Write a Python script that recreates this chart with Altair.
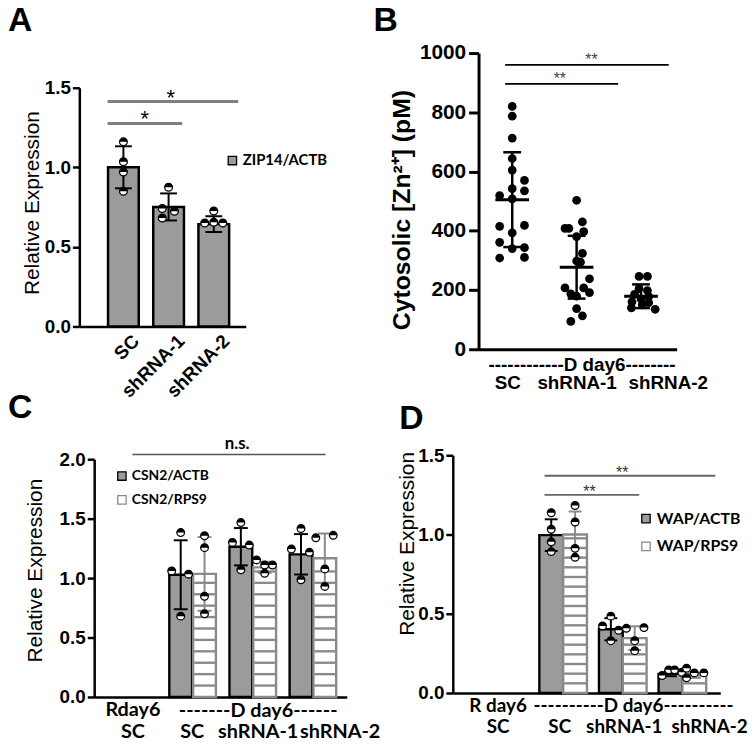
import altair as alt
import pandas as pd

NUM = "Liberation Sans"
TXT = "Lato"
HALF_TOP = "M -1 0 A 1 1 0 0 1 1 0 Z"
GRAY = "#9b9b9b"
LINEGRAY = "#8a8a8a"

panel_letters = ["A", "B", "C", "D"]

# ---------------- Panel A data ----------------
a_labels = ["SC", "shRNA-1", "shRNA-2"]
a_series = "ZIP14/ACTB"
a_mean = [1.00, 0.751, 0.643]
a_sd = [0.132, 0.085, 0.050]
a_dot_group = [0, 0, 0, 0, 1, 1, 1, 1, 2, 2, 2, 2]
a_dot_jitter = [0, 0, 0, 0, 0, -0.14, 0.13, -0.14, 0, -0.2, 0, 0.2]
a_dot_value = [1.16, 1.035, 0.97, 0.85, 0.875, 0.741, 0.724, 0.682, 0.726, 0.65, 0.655, 0.65]
a_sig_start = [-0.35, -0.35]
a_sig_end = [2.54, 1.30]
a_sig_level = [1.413, 1.275]
a_sig_mark = ["*", "*"]
a_sig_mark_x = [1.05, 0.47]
a_sig_mark_y = [1.435, 1.30]

# ---------------- Panel B data ----------------
b_labels = ["SC", "shRNA-1", "shRNA-2"]
b_group_title = "------------D day6--------"
b_mean = [505, 277, 179]
b_sd = [160, 106, 40]
b_sc_value = [820, 787, 713, 644, 605, 570, 535, 542, 519, 508, 415, 418, 393, 361, 343, 340, 308, 310]
b_sc_jitter = [0, 0, 0, 0, 0, 0.19, 0.19, 0, -0.195, 0, -0.195, 0.19, 0, -0.195, 0.19, 0, -0.195, 0.19]
b_sh1_value = [503, 430, 408, 408, 397, 380, 324, 298, 294, 238, 207, 207, 191, 187, 179, 137, 113, 94]
b_sh1_jitter = [0, 0.09, -0.18, -0.12, 0.11, 0, 0.09, 0, 0.06, 0.2, -0.18, 0.11, 0.2, -0.09, 0, 0, 0.09, -0.09]
b_sh2_value = [246, 246, 205, 198, 185, 178, 170, 160, 157, 140, 135, 150]
b_sh2_jitter = [-0.03, 0.1, -0.03, 0.1, -0.1, 0.12, 0, -0.14, 0.12, -0.15, 0.22, 0.02]
b_sig_start = [-0.11, -0.11]
b_sig_end = [2.43, 1.646]
b_sig_level = [960, 896]
b_sig_mark = ["**", "**"]
b_sig_mark_x = [1.23, 0.74]
b_sig_mark_y = [975, 912]

# ---------------- Panel C data ----------------
c_labels_top = ["Rday6", "", "", ""]
c_labels_bottom = ["SC", "SC", "shRNA-1", "shRNA-2"]
c_group_title = "-------D day6------"
c_series = ["CSN2/ACTB", "CSN2/RPS9"]
c_bar_group = [1, 2, 3]
c_actb_mean = [1.028, 1.264, 1.20]
c_actb_sd = [0.29, 0.157, 0.17]
c_rps9_mean = [1.035, 1.09, 1.167]
c_rps9_sd = [0.31, 0.047, 0.208]
c_dot_group = [1, 1, 1, 1, 2, 2, 2, 2, 3, 3, 3, 3]
c_actb_dot_jitter = [0, -0.15, 0.13, 0, 0, -0.14, 0.14, 0, 0, -0.16, 0.14, 0]
c_actb_dot_value = [1.383, 1.06, 1.033, 0.68, 1.467, 1.30, 1.278, 1.07, 1.417, 1.244, 1.217, 0.986]
c_rps9_dot_jitter = [0, 0, 0, 0, -0.135, 0, 0.13, 0, -0.15, 0.14, 0, 0]
c_rps9_dot_value = [1.356, 1.256, 0.847, 0.70, 1.153, 1.11, 1.11, 1.04, 1.339, 1.36, 1.077, 0.93]
c_sig_start = [0.0]
c_sig_end = [3.21]
c_sig_level = [2.04]
c_sig_mark = ["n.s."]
c_sig_mark_x = [1.74]
c_sig_mark_y = [2.125]

# ---------------- Panel D data ----------------
d_labels_top = ["R day6", "", "", ""]
d_labels_bottom = ["SC", "SC", "shRNA-1", "shRNA-2"]
d_group_title = "----------D day6----------"
d_series = ["WAP/ACTB", "WAP/RPS9"]
d_bar_group = [1, 2, 3]
d_actb_mean = [0.996, 0.402, 0.121]
d_actb_sd = [0.10, 0.07, 0.015]
d_rps9_mean = [1.0, 0.346, 0.11]
d_rps9_sd = [0.145, 0.075, 0.015]
d_dot_group = [1, 1, 1, 1, 2, 2, 2, 2, 3, 3, 3, 3]
d_actb_dot_jitter = [0, 0, 0, 0, 0, -0.14, 0.13, 0, -0.14, -0.03, 0.07, 0.19]
d_actb_dot_value = [1.1375, 1.033, 0.954, 0.892, 0.485, 0.423, 0.396, 0.33, 0.11, 0.146, 0.146, 0.131]
d_rps9_dot_jitter = [0, 0, 0, 0, -0.14, 0.155, 0, 0, -0.13, -0.13, 0, 0.16]
d_rps9_dot_value = [1.183, 1.079, 0.9125, 0.856, 0.408, 0.4125, 0.33, 0.267, 0.156, 0.096, 0.127, 0.127]
d_sig_start = [0.688, 0.688]
d_sig_end = [3.552, 2.275]
d_sig_level = [1.37, 1.25]
d_sig_mark = ["**", "**"]
d_sig_mark_x = [1.99, 1.44]
d_sig_mark_y = [1.385, 1.265]


# ---------------- helpers ----------------
def one_line(labels):
    return "[" + ",".join("'" + s + "'" for s in labels) + "][round(datum.value)]"


def two_lines(top, bottom):
    return "[" + ",".join("['" + t + "','" + b + "']" for t, b in zip(top, bottom)) + "][round(datum.value)]"


def label_shift(shifts):
    conds = [{"test": "round(datum.value) == %d" % i, "value": s} for i, s in enumerate(shifts) if s != 0]
    return {"condition": conds, "value": 0}


def y_axis(values, fmt, title, offset, title_pad, title_y, label_size=19, tick_size=7, title_size=21,
           title_weight="normal", label_pad=2, width=2.5):
    return alt.Axis(values=values, format=fmt, title=title, offset=offset, tickSize=tick_size,
                    tickWidth=width, domainWidth=width, labelFont=NUM, labelFontSize=label_size,
                    labelFontWeight="bold", labelPadding=label_pad, titleFont=NUM,
                    titleFontSize=title_size, titleFontWeight=title_weight, titlePadding=title_pad,
                    titleY=title_y, grid=False, labelFlush=False)


def legend(x, y, size, row_pad):
    return alt.Legend(title=None, orient="none", legendX=x, legendY=y, symbolType="square",
                      symbolSize=72, symbolStrokeWidth=1.3, labelFont=TXT, labelFontSize=size,
                      labelFontWeight="bold", labelColor="black", labelOffset=3,
                      rowPadding=row_pad, padding=0)


def half_dots(df, X, Y, size):
    base = alt.Chart(df).encode(x=X, y=Y)
    ring = base.mark_point(shape="circle", filled=True, fill="white", stroke="black",
                           strokeWidth=1.3, size=size, opacity=1)
    top = base.mark_point(shape=HALF_TOP, filled=True, fill="black", strokeWidth=0,
                          size=size, opacity=1)
    return [ring, top]


def error_bars(df, X, Y, color, cap, width=2):
    rule = alt.Chart(df).mark_rule(color=color, strokeWidth=width).encode(x=X("x"), y=Y("lo"), y2="hi")
    lo = alt.Chart(df).mark_tick(orient="horizontal", size=cap, thickness=width, color=color,
                                 opacity=1).encode(x=X("x"), y=Y("lo"))
    hi = alt.Chart(df).mark_tick(orient="horizontal", size=cap, thickness=width, color=color,
                                 opacity=1).encode(x=X("x"), y=Y("hi"))
    return [rule, lo, hi]


def letter(t, x, y):
    return alt.Chart(pd.DataFrame({"t": [t]})).mark_text(
        font=NUM, fontSize=34, fontWeight="bold", align="left", baseline="alphabetic", color="black"
    ).encode(text="t:N", x=alt.value(x), y=alt.value(y))


def sig_layers(data, style, X, Y):
    start, end, level, marks, mx, my = data
    line_color, line_w, font, size, weight, color = style
    ldf = pd.DataFrame({"s": start, "e": end, "lv": level})
    tdf = pd.DataFrame({"tx": mx, "ty": my, "m": marks})
    rule = alt.Chart(ldf).mark_rule(color=line_color, strokeWidth=line_w).encode(
        x=X("s"), x2="e", y=Y("lv"))
    txt = alt.Chart(tdf).mark_text(font=font, fontSize=size, fontWeight=weight, color=color,
                                   baseline="middle").encode(x=X("tx"), y=Y("ty"), text="m:N")
    return [rule, txt]


LETTER_Y = -22

# ---------------- Panel A ----------------
a_xs = alt.Scale(domain=[-0.866, 2.598], range=[-15, 153], nice=False, zero=False)
a_ys = alt.Scale(domain=[0, 1.5], range=[276, 35], nice=False, zero=False)
a_xax = alt.Axis(values=[0, 1, 2], labelExpr=one_line(a_labels), ticks=False, domainWidth=2.5,
                 labelAngle=-45, labelAlign="right", labelBaseline="top", labelFont=NUM,
                 labelFontSize=19, labelFontWeight="bold", labelPadding=5, labelOffset=6,
                 labelOverlap=False, labelFlush=False, title=None, grid=False)
a_yax = y_axis([0, 0.5, 1.0, 1.5], ".1f", "Relative Expression", 15, 2, 151)


def AX(f):
    return alt.X(f + ":Q", scale=a_xs, axis=a_xax)


def AY(f):
    return alt.Y(f + ":Q", scale=a_ys, axis=a_yax)


a_bar_df = pd.DataFrame({
    "x": [0, 1, 2], "y": a_mean,
    "lo": [m - s for m, s in zip(a_mean, a_sd)], "hi": [m + s for m, s in zip(a_mean, a_sd)],
    "series": [a_series] * 3,
})
a_dot_df = pd.DataFrame({"x": [g + j for g, j in zip(a_dot_group, a_dot_jitter)], "y": a_dot_value})

a_layers = [
    alt.Chart(a_bar_df).mark_bar(orient="vertical", size=31, stroke="black", strokeWidth=2.5).encode(
        x=AX("x"), y=AY("y"), y2=alt.datum(0),
        fill=alt.Fill("series:N", scale=alt.Scale(domain=[a_series], range=[GRAY]),
                      legend=legend(132, 101, 15, 8))),
    *error_bars(a_bar_df, AX, AY, "black", 17),
    *half_dots(a_dot_df, AX("x"), AY("y"), 62),
    *sig_layers((a_sig_start, a_sig_end, a_sig_level, a_sig_mark, a_sig_mark_x, a_sig_mark_y),
                ("#7f7f7f", 3, NUM, 22, "normal", "black"), AX, AY),
    letter(panel_letters[0], -87, LETTER_Y),
]
panel_a = alt.layer(*a_layers).properties(width=153, height=276)

# ---------------- Panel B ----------------
b_xs = alt.Scale(domain=[-0.523, 2.554], nice=False, zero=False)
b_ys = alt.Scale(domain=[0, 1000], nice=False, zero=False)
b_xax = alt.Axis(values=[0, 1, 2], labelExpr=one_line(b_labels), ticks=False, domainWidth=3,
                 labelFont=NUM, labelFontSize=19, labelFontWeight="bold", labelPadding=25,
                 labelOffset=label_shift([-5, 0, 27]),
                 labelOverlap=False, labelFlush=False, title=b_group_title, titleFont=NUM,
                 titleFontSize=19, titleFontWeight="bold", titleX=104, titleY=15,
                 titleAlign="center", titleBaseline="middle", grid=False)
b_yax = y_axis([0, 200, 400, 600, 800, 1000], "d", "Cytosolic [Zn²⁺] (pM)", 0, 5, 158,
               label_size=21, tick_size=10, title_size=25, title_weight="bold", label_pad=3, width=3)


def BX(f):
    return alt.X(f + ":Q", scale=b_xs, axis=b_xax)


def BY(f):
    return alt.Y(f + ":Q", scale=b_ys, axis=b_yax)


b_stat_df = pd.DataFrame({
    "x": [0, 1, 2], "y": b_mean,
    "lo": [m - s for m, s in zip(b_mean, b_sd)], "hi": [m + s for m, s in zip(b_mean, b_sd)],
})
b_dot_df = pd.DataFrame({
    "x": [0 + j for j in b_sc_jitter] + [1 + j for j in b_sh1_jitter] + [2 + j for j in b_sh2_jitter],
    "y": b_sc_value + b_sh1_value + b_sh2_value,
})
b_layers = [
    alt.Chart(b_dot_df).mark_circle(size=78, color="black", opacity=1).encode(x=BX("x"), y=BY("y")),
    *error_bars(b_stat_df, BX, BY, "black", 18, width=2.5),
    alt.Chart(b_stat_df).mark_tick(orient="horizontal", size=34, thickness=3, color="black",
                                   opacity=1).encode(x=BX("x"), y=BY("y")),
    *sig_layers((b_sig_start, b_sig_end, b_sig_level, b_sig_mark, b_sig_mark_x, b_sig_mark_y),
                ("black", 1.6, NUM, 16, "normal", "#444444"), BX, BY),
    letter(panel_letters[1], -106, LETTER_Y),
]
panel_b = alt.layer(*b_layers).properties(width=200, height=299)


# ---------------- grouped bar panels (C, D) ----------------
def grouped_panel(xs, ys, xax, yax, series, groups, actb_mean, actb_sd, rps9_mean, rps9_sd,
                  dot_group, actb_jit, actb_val, rps9_jit, rps9_val, off, bar_w, stripe_step,
                  cap, dot_size, leg, sig, sig_style, let, let_xy, width, height):
    def X(f):
        return alt.X(f + ":Q", scale=xs, axis=xax)

    def Y(f):
        return alt.Y(f + ":Q", scale=ys, axis=yax)

    actb = pd.DataFrame({
        "x": [g - off for g in groups], "y": actb_mean,
        "lo": [m - s for m, s in zip(actb_mean, actb_sd)],
        "hi": [m + s for m, s in zip(actb_mean, actb_sd)], "series": [series[0]] * len(groups)})
    rps9 = pd.DataFrame({
        "x": [g + off for g in groups], "y": rps9_mean,
        "lo": [m - s for m, s in zip(rps9_mean, rps9_sd)],
        "hi": [m + s for m, s in zip(rps9_mean, rps9_sd)], "series": [series[1]] * len(groups)})
    bars = pd.concat([actb, rps9], ignore_index=True)
    # horizontal hatching inside the RPS9 bars (style only)
    sx, sy = [], []
    for g, m in zip(groups, rps9_mean):
        k = 1
        while k * stripe_step < m - 0.35 * stripe_step:
            sx.append(g + off)
            sy.append(k * stripe_step)
            k += 1
    stripes = pd.DataFrame({"x": sx, "y": sy})
    actb_dots = pd.DataFrame({"x": [g - off + j for g, j in zip(dot_group, actb_jit)], "y": actb_val})
    rps9_dots = pd.DataFrame({"x": [g + off + j for g, j in zip(dot_group, rps9_jit)], "y": rps9_val})

    layers = [
        alt.Chart(bars).mark_bar(orient="vertical", size=bar_w, strokeWidth=2.4).encode(
            x=X("x"), y=Y("y"), y2=alt.datum(0),
            fill=alt.Fill("series:N", scale=alt.Scale(domain=series, range=[GRAY, "white"]), legend=leg),
            stroke=alt.Stroke("series:N", scale=alt.Scale(domain=series, range=["black", LINEGRAY]),
                              legend=leg)),
        alt.Chart(stripes).mark_tick(orient="horizontal", size=bar_w - 2, thickness=2.4,
                                     color=LINEGRAY, opacity=1).encode(x=X("x"), y=Y("y")),
        *error_bars(actb, X, Y, "black", cap),
        *error_bars(rps9, X, Y, LINEGRAY, cap),
        *half_dots(actb_dots, X("x"), Y("y"), dot_size),
        *half_dots(rps9_dots, X("x"), Y("y"), dot_size),
        *sig_layers(sig, sig_style, X, Y),
        letter(let, let_xy[0], let_xy[1]),
    ]
    return alt.layer(*layers).properties(width=width, height=height)


c_xs = alt.Scale(domain=[-0.554, 3.481], nice=False, zero=False)
c_ys = alt.Scale(domain=[0, 2.0], range=[244, 4], nice=False, zero=False)
c_xax = alt.Axis(values=[0, 1, 2, 3], labelExpr=two_lines(c_labels_top, c_labels_bottom), ticks=False,
                 domainWidth=2.5, labelFont=TXT, labelFontSize=20, labelFontWeight="bold",
                 labelLineHeight=22, labelPadding=3, labelOffset=label_shift([0, -1, 5, 27]),
                 labelOverlap=False, labelFlush=False,
                 title=c_group_title, titleFont=TXT, titleFontSize=20, titleFontWeight="bold",
                 titleX=165, titleY=14, titleAlign="center", titleBaseline="middle", grid=False)
c_yax = y_axis([0, 0.5, 1.0, 1.5, 2.0], ".1f", "Relative Expression", 0, 14, 116)

panel_c = grouped_panel(
    c_xs, c_ys, c_xax, c_yax, c_series, c_bar_group, c_actb_mean, c_actb_sd, c_rps9_mean, c_rps9_sd,
    c_dot_group, c_actb_dot_jitter, c_actb_dot_value, c_rps9_dot_jitter, c_rps9_dot_value,
    0.198, 23, 0.096, 14, 60, legend(21, 14, 14, 10),
    (c_sig_start, c_sig_end, c_sig_level, c_sig_mark, c_sig_mark_x, c_sig_mark_y),
    ("#555555", 1.6, TXT, 17, "bold", "black"),
    panel_letters[2], (-87, -38), 255, 244)

d_xs = alt.Scale(domain=[-0.768, 3.552], range=[-26, 244], nice=False, zero=False)
d_ys = alt.Scale(domain=[0, 1.5], nice=False, zero=False)
d_xax = alt.Axis(values=[0, 1, 2, 3], labelExpr=two_lines(d_labels_top, d_labels_bottom), ticks=False,
                 domainWidth=2.5, labelFont=TXT, labelFontSize=19, labelFontWeight="bold",
                 labelLineHeight=21, labelPadding=4, labelOffset=label_shift([-6, -4, 1, 27]),
                 labelOverlap=False, labelFlush=False,
                 title=d_group_title, titleFont=TXT, titleFontSize=19, titleFontWeight="bold",
                 titleX=156, titleY=13, titleAlign="center", titleBaseline="middle", grid=False)
d_yax = y_axis([0, 0.5, 1.0, 1.5], ".1f", "Relative Expression", 26, 0, 89)

panel_d = grouped_panel(
    d_xs, d_ys, d_xax, d_yax, d_series, d_bar_group, d_actb_mean, d_actb_sd, d_rps9_mean, d_rps9_sd,
    d_dot_group, d_actb_dot_jitter, d_actb_dot_value, d_rps9_dot_jitter, d_rps9_dot_value,
    0.2, 24, 0.061, 13, 60, legend(161, 56, 16, 12),
    (d_sig_start, d_sig_end, d_sig_level, d_sig_mark, d_sig_mark_x, d_sig_mark_y),
    ("#666666", 2, NUM, 16, "normal", "#333333"),
    panel_letters[3], (-80, -26), 244, 240)

chart = alt.concat(
    panel_a, panel_b, panel_c, panel_d, columns=2,
    spacing={"row": 107, "column": 133}, bounds="flush",
).resolve_scale(
    fill="independent", stroke="independent"
).resolve_legend(
    fill="independent", stroke="independent"
).properties(
    padding={"left": 0, "top": -7, "right": 0, "bottom": 0}
).configure_view(stroke=None).configure_axis(
    domainColor="black", tickColor="black", labelColor="black", titleColor="black", grid=False
)

chart.save("out.html", embed_options={"renderer": "svg", "actions": False})
